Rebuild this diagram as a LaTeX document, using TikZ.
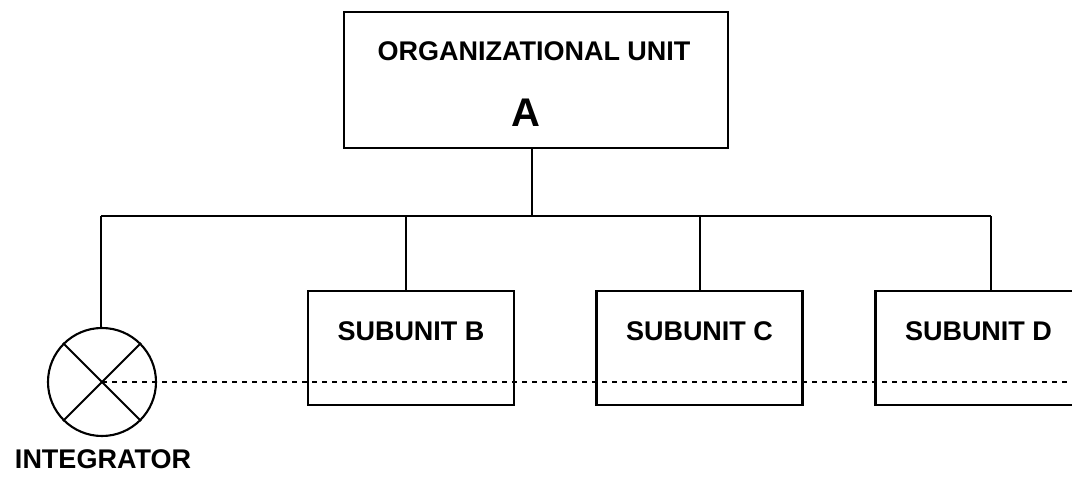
\documentclass[tikz,border=0pt]{standalone}
\usepackage{fontspec}
\setmainfont{Liberation Sans}
\begin{document}
\begin{tikzpicture}[x=1pt, y=-1pt,
  every node/.style={font=\bfseries\fontsize{27}{30}\selectfont},
  unitbox/.style={draw, line width=2.1pt, rectangle, inner sep=0pt},
  subbox/.style={unitbox, minimum width=206pt, minimum height=114pt},
  wire/.style={line width=2.1pt},
  hook/.style={line width=1.8pt, dash pattern=on 5pt off 5pt}]
  \useasboundingbox (0,0) rectangle (1072,481);
  \clip (0,0) rectangle (1072,481);

  % top-level unit
  \node[unitbox, minimum width=384pt, minimum height=136pt] (A) at (536,80) {};
  \node (Atitle) at (534,51) {ORGANIZATIONAL UNIT};
  \node[font=\bfseries\fontsize{40}{44}\selectfont] (Aletter) at (526,113) {A};

  % subunits
  \node[subbox] (B) at (411,348) {};
  \node[subbox] (C) at (699.5,348) {};
  \node[subbox] (D) at (978.5,348) {};
  \node (Bt) at ([yshift=17pt]B.center) {SUBUNIT B};
  \node (Ct) at ([yshift=17pt]C.center) {SUBUNIT C};
  \node (Dt) at ([yshift=17pt]D.center) {SUBUNIT D};

  % integrator
  \node[draw, circle, line width=2.1pt, minimum size=108pt, inner sep=0pt] (I) at (102,382) {};
  \draw[wire] (I.north west) -- (I.south east);
  \draw[wire] (I.north east) -- (I.south west);
  \node (It) at (103,459) {INTEGRATOR};

  % bus connecting the unit to its subunits
  \coordinate (busL) at (101,216);
  \coordinate (busR) at (991,216);
  \coordinate (dA) at (532,216);
  \coordinate (dB) at (406,216);
  \coordinate (dC) at (700,216);
  \draw[wire] (busL) -- (busR);
  \draw[wire] (dA |- A.south) -- (dA);
  \draw[wire] (busL) -- (busL |- I.north);
  \draw[wire] (dB) -- (dB |- B.north);
  \draw[wire] (dC) -- (dC |- C.north);
  \draw[wire] (busR) -- (busR |- D.north);

  % integrating link across the subunits
  \coordinate (hookEnd) at (1072,384);
  \draw[hook] (I.center) -- (I.center -| hookEnd);
\end{tikzpicture}
\end{document}
